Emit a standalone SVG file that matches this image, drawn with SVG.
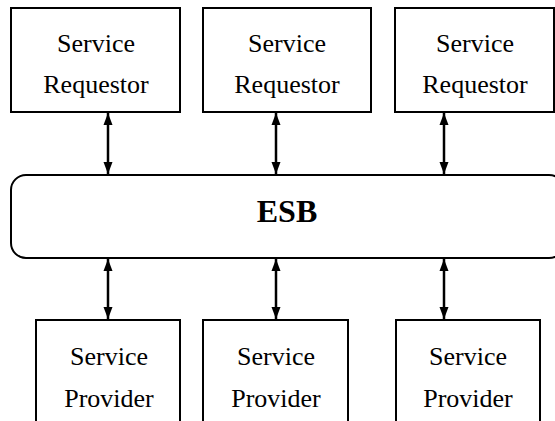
<svg xmlns="http://www.w3.org/2000/svg" width="555" height="421" viewBox="0 0 555 421">
<defs>
<marker id="ah" viewBox="0 0 12 10" refX="12" refY="5" markerWidth="12" markerHeight="10" markerUnits="userSpaceOnUse" orient="auto-start-reverse">
<path d="M0,0.5 L12,5 L0,9.5 Z" fill="#000"/>
</marker>
<style>
.box{fill:#fff;stroke:#000;stroke-width:2}
.t{font-family:"Liberation Serif","Times New Roman",serif;font-size:26px;fill:#000;text-anchor:middle}
.b{font-family:"Liberation Serif","Times New Roman",serif;font-size:32px;font-weight:bold;fill:#000;text-anchor:middle}
.c{stroke:#000;stroke-width:2.5;fill:none;marker-start:url(#ah);marker-end:url(#ah)}
</style>
</defs>
<rect width="555" height="421" fill="#fff"/>
<g id="req1"><rect class="box" x="11" y="8" width="169" height="104"/><text class="t" x="96" y="52">Service</text><text class="t" x="96" y="93">Requestor</text></g>
<g id="req2"><rect class="box" x="203" y="8" width="168" height="104"/><text class="t" x="287" y="52">Service</text><text class="t" x="287" y="93">Requestor</text></g>
<g id="req3"><rect class="box" x="395" y="8" width="159" height="104"/><text class="t" x="475" y="52">Service</text><text class="t" x="475" y="93">Requestor</text></g>
<g id="esb"><rect class="box" x="11" y="175" width="553" height="83" rx="15" ry="15"/><text class="b" x="287" y="222">ESB</text></g>
<g id="prov1"><rect class="box" x="36" y="320" width="144" height="120"/><text class="t" x="109" y="365">Service</text><text class="t" x="109" y="407">Provider</text></g>
<g id="prov2"><rect class="box" x="203" y="320" width="145" height="120"/><text class="t" x="276" y="365">Service</text><text class="t" x="276" y="407">Provider</text></g>
<g id="prov3"><rect class="box" x="396" y="320" width="144" height="120"/><text class="t" x="468" y="365">Service</text><text class="t" x="468" y="407">Provider</text></g>
<g id="connectors">
<line class="c" x1="108" y1="113" x2="108" y2="174"/>
<line class="c" x1="276" y1="113" x2="276" y2="174"/>
<line class="c" x1="444" y1="113" x2="444" y2="174"/>
<line class="c" x1="108" y1="259" x2="108" y2="319"/>
<line class="c" x1="276" y1="259" x2="276" y2="319"/>
<line class="c" x1="444" y1="259" x2="444" y2="319"/>
</g>
</svg>
